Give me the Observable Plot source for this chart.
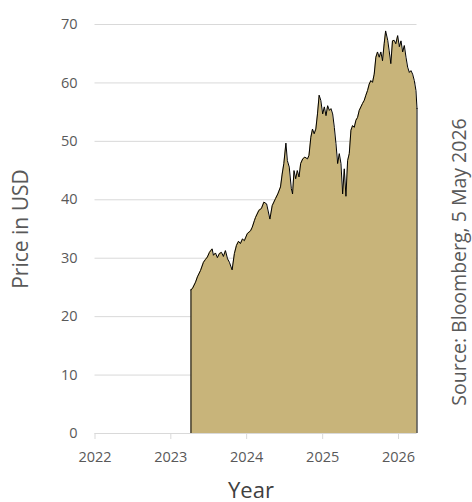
<!DOCTYPE html>
<html>
<head>
<meta charset="utf-8">
<script src="https://cdn.jsdelivr.net/npm/d3@7"></script>
<script src="https://cdn.jsdelivr.net/npm/@observablehq/plot@0.6"></script>
<style>
  html, body { margin: 0; padding: 0; background: #fff; }
  #chart svg { display: block; }
</style>
</head>
<body>
<div id="chart"></div>
<script>
const dates = [
  "2023-04-08","2023-04-15","2023-04-30","2023-05-09","2023-05-24","2023-06-07","2023-06-17","2023-06-26",
  "2023-07-06","2023-07-19","2023-07-25","2023-08-04","2023-08-13","2023-08-23","2023-09-02","2023-09-11",
  "2023-09-21","2023-10-01","2023-10-10","2023-10-23","2023-11-03","2023-11-13","2023-11-23","2023-12-02",
  "2023-12-12","2023-12-21","2024-01-04","2024-01-20","2024-01-28","2024-02-08","2024-02-13","2024-02-29",
  "2024-03-12","2024-03-24","2024-04-06","2024-04-22","2024-05-03","2024-05-19","2024-05-30","2024-06-12",
  "2024-06-20","2024-06-28","2024-07-08","2024-07-15","2024-07-24","2024-08-03","2024-08-09","2024-08-16",
  "2024-08-24","2024-09-01","2024-09-09","2024-09-17","2024-09-27","2024-10-07","2024-10-20","2024-10-27",
  "2024-11-05","2024-11-13","2024-11-21","2024-11-29","2024-12-07","2024-12-15","2024-12-23","2025-01-01",
  "2025-01-09","2025-01-17","2025-01-25","2025-02-02","2025-02-10","2025-02-18","2025-02-26","2025-03-06",
  "2025-03-14","2025-03-22","2025-03-30","2025-04-07","2025-04-15","2025-04-23","2025-05-01","2025-05-09",
  "2025-05-17","2025-05-25","2025-06-02","2025-06-10","2025-06-18","2025-06-26","2025-07-04","2025-07-12",
  "2025-07-20","2025-07-28","2025-08-05","2025-08-13","2025-08-21","2025-08-29","2025-09-06","2025-09-14",
  "2025-09-22","2025-09-30","2025-10-08","2025-10-16","2025-10-24","2025-10-31","2025-11-10","2025-11-17",
  "2025-11-25","2025-12-03","2025-12-11","2025-12-19","2025-12-28","2026-01-05","2026-01-13","2026-01-21",
  "2026-01-29","2026-02-06","2026-02-14","2026-02-22","2026-03-02","2026-03-10","2026-03-18","2026-03-26",
  "2026-03-31"
];
const prices = [
  24.6, 24.8, 25.9, 26.8, 27.9, 29.3, 29.8, 30.2,
  31.0, 31.6, 30.5, 30.9, 30.1, 30.8, 31.0, 30.3,
  31.3, 29.9, 29.3, 28.0, 30.8, 32.2, 32.9, 32.5,
  33.3, 33.0, 34.2, 34.7, 35.3, 36.5, 37.0, 38.2,
  38.5, 39.6, 39.3, 36.7, 39.0, 40.2, 41.0, 42.2,
  44.4, 46.2, 49.7, 46.7, 45.6, 41.9, 41.0, 45.0,
  43.6, 45.0, 43.9, 46.2, 47.0, 47.3, 47.0, 47.6,
  50.7, 52.1, 51.3, 52.1, 54.7, 57.9, 57.0, 54.7,
  55.9, 54.4, 56.1, 55.3, 55.6, 54.7, 52.4, 49.6,
  46.2, 47.9, 46.2, 41.0, 45.3, 40.6, 46.7, 47.9,
  51.9, 52.7, 52.4, 53.6, 54.1, 55.3, 55.9, 56.5,
  57.0, 57.9, 58.7, 59.8, 60.4, 60.1, 61.5, 64.4,
  65.3, 64.4, 65.3, 63.8, 66.7, 68.9, 67.3, 65.5,
  63.3, 67.2, 67.3, 66.7, 68.1, 66.2, 67.2, 65.3,
  66.4, 64.4, 62.7, 61.8, 62.1, 61.5, 60.4, 58.7,
  55.6
];
const yTicks = [0, 10, 20, 30, 40, 50, 60, 70];
const yearTicks = ["2022-01-01","2023-01-01","2024-01-01","2025-01-01","2026-01-01"];
const yLabel = "Price in USD";
const xLabel = "Year";
const sourceNote = "Source: Bloomberg, 5 May 2026";

const data = dates.map((d, i) => ({date: new Date(d), price: prices[i]}));
const ends = [data[0], data[data.length - 1]];

const chart = Plot.plot({
  width: 472,
  height: 502,
  marginTop: 24,
  marginBottom: 69,
  marginLeft: 94.5,
  marginRight: 55.5,
  style: {fontFamily: "'Open Sans', sans-serif", background: "#fff"},
  x: {type: "utc", domain: [new Date("2022-01-01"), data[data.length - 1].date]},
  y: {domain: [0, 70]},
  marks: [
    Plot.gridY(yTicks, {stroke: "#d9d9d9", strokeOpacity: 1, strokeWidth: 1}),
    Plot.areaY(data, {x: "date", y: "price", fill: "#C8B47A", curve: "linear"}),
    Plot.lineY(data, {x: "date", y: "price", stroke: "#000", strokeWidth: 1}),
    Plot.ruleX(ends, {x: "date", y1: 0, y2: "price", stroke: "#000", strokeWidth: 1}),
    Plot.axisY({ticks: yTicks, tickSize: 0, tickPadding: 17.5, label: null, fontSize: 14.5, fill: "#595959"}),
    Plot.axisX({ticks: yearTicks.map(d => new Date(d)), tickFormat: d3.utcFormat("%Y"), tickSize: 6, tickPadding: 12,
      label: null, fontSize: 14.5, stroke: "#d9d9d9", fill: "#595959"}),
    Plot.text([yLabel], {frameAnchor: "left", dx: -67.5, rotate: -90, lineAnchor: "bottom", textAnchor: "middle",
      fontSize: 21, fill: "#595959"}),
    Plot.text([xLabel], {frameAnchor: "bottom", dx: -5, dy: 64, lineAnchor: "bottom", textAnchor: "middle",
      fontSize: 22, fill: "#404040"}),
    Plot.text([sourceNote], {frameAnchor: "right", dx: 49, dy: 33, rotate: -90, lineAnchor: "bottom", textAnchor: "middle",
      fontSize: 19.5, fill: "#595959"})
  ]
});
document.getElementById("chart").appendChild(chart);
</script>
</body>
</html>
